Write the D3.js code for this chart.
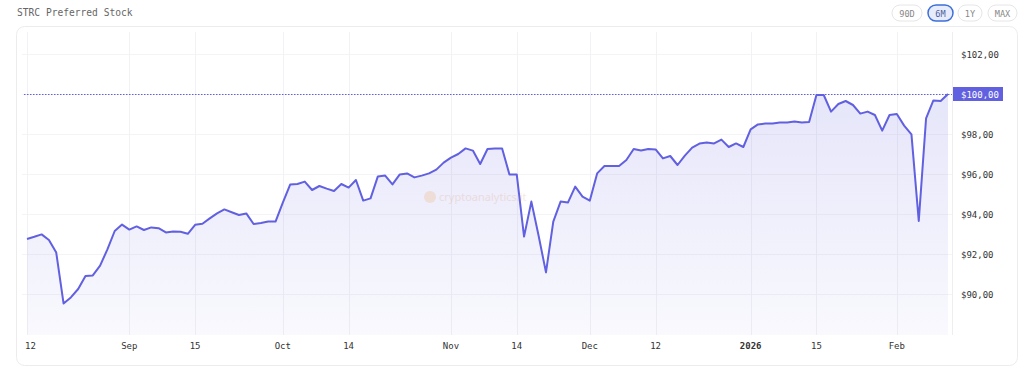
<!DOCTYPE html>
<html lang="en">
	<head>
		<meta charset="utf-8">
		<title>STRC Preferred Stock</title>
		<script type="text/javascript" src="https://cdn.jsdelivr.net/npm/d3@7"></script>
		<style type="text/css">
			body { margin: 0; background: #fff; }
			svg { display: block; }
		</style>
	</head>
	<body>

		<script type="text/javascript">

			//Width and height
			var w = 1024;
			var h = 371;

			//Closing prices, one per trading day (Aug 12 2025 -> Feb 11 2026)
			var prices = [
				92.75, 92.86, 92.98, 92.70, 92.07, 89.53, 89.83, 90.25, 90.90, 90.93,
				91.42, 92.23, 93.15, 93.47, 93.22, 93.38, 93.20, 93.33, 93.29, 93.08,
				93.13, 93.11, 93.01, 93.46, 93.51, 93.78, 94.03, 94.23, 94.09, 93.95,
				94.03, 93.50, 93.55, 93.62, 93.62, 94.57, 95.47, 95.50, 95.62, 95.20,
				95.40, 95.27, 95.15, 95.50, 95.32, 95.70, 94.67, 94.78, 95.88, 95.92,
				95.48, 95.98, 96.03, 95.83, 95.92, 96.03, 96.22, 96.57, 96.82, 97.00,
				97.28, 97.17, 96.50, 97.25, 97.28, 97.28, 95.98, 95.98, 92.87, 94.62,
				92.90, 91.08, 93.62, 94.62, 94.57, 95.37, 94.87, 94.67, 96.03, 96.40,
				96.40, 96.40, 96.70, 97.25, 97.17, 97.25, 97.23, 96.78, 96.90, 96.45,
				96.92, 97.32, 97.52, 97.57, 97.53, 97.72, 97.35, 97.53, 97.35, 98.23,
				98.48, 98.52, 98.53, 98.57, 98.58, 98.62, 98.57, 98.60, 99.95, 99.95,
				99.12, 99.50, 99.65, 99.45, 99.02, 99.12, 98.95, 98.17, 98.95, 99.00,
				98.42, 97.98, 93.65, 98.78, 99.68, 99.65, 100.00
			];

			//Time axis ticks (trading-day index -> label)
			var tickIndex  = [0, 14, 23, 35, 44, 58, 67, 77, 86, 99, 108, 119];
			var tickLabels = ["12", "Sep", "15", "Oct", "14", "Nov", "14", "Dec", "12", "2026", "15", "Feb"];

			//Price axis ticks
			var priceTicks = [90, 92, 94, 96, 98, 100, 102];

			var ranges = ["90D", "6M", "1Y", "MAX"];
			var activeRange = "6M";

			var lineColor = "#6160e0";
			var font = "'DejaVu Sans Mono', monospace";

			var plotLeft = 22, plotRight = 952, plotTop = 32, plotBottom = 335;

			var xScale = d3.scalePoint()
						.domain(d3.range(prices.length))
						.range([27, 948]);

			var yScale = d3.scaleLinear()
						.domain([88, 103])
						.range([334, 34]);

			//Create SVG element
			var svg = d3.select("body")
						.append("svg")
						.attr("width", w)
						.attr("height", h);

			//Title
			svg.append("text")
				.attr("x", 17)
				.attr("y", 16)
				.attr("font-family", font)
				.attr("font-size", "9.6px")
				.attr("fill", "#666")
				.text("STRC Preferred Stock");

			//Range buttons
			var btnX = [892, 928, 958, 988];
			var btnW = [30, 25, 24, 29];
			var btns = svg.selectAll("g.btn")
				.data(ranges)
				.enter()
				.append("g")
				.attr("class", "btn")
				.attr("transform", function(d, i) { return "translate(" + btnX[i] + ",5)"; });

			btns.append("rect")
				.attr("width", function(d, i) { return btnW[i]; })
				.attr("height", 16)
				.attr("rx", 8)
				.attr("fill", function(d) { return d == activeRange ? "#e6ecfb" : "#fff"; })
				.attr("stroke", function(d) { return d == activeRange ? "#3d6fd8" : "#e6e6e6"; })
				.attr("stroke-width", function(d) { return d == activeRange ? 1.5 : 1; });

			btns.append("text")
				.attr("x", function(d, i) { return btnW[i] / 2; })
				.attr("y", 11.5)
				.attr("text-anchor", "middle")
				.attr("font-family", font)
				.attr("font-size", "8.6px")
				.attr("fill", function(d) { return d == activeRange ? "#4d5f9a" : "#888"; })
				.text(function(d) { return d; });

			//Card
			svg.append("rect")
				.attr("x", 16.5)
				.attr("y", 26.5)
				.attr("width", 1001)
				.attr("height", 339)
				.attr("rx", 8)
				.attr("fill", "#fff")
				.attr("stroke", "#ececec");

			//Grid
			svg.selectAll("line.hgrid")
				.data(priceTicks)
				.enter()
				.append("line")
				.attr("class", "hgrid")
				.attr("x1", plotLeft)
				.attr("x2", plotRight)
				.attr("y1", function(d) { return Math.round(yScale(d)) + 0.5; })
				.attr("y2", function(d) { return Math.round(yScale(d)) + 0.5; })
				.attr("stroke", "#f4f4f6");

			svg.selectAll("line.vgrid")
				.data(tickIndex)
				.enter()
				.append("line")
				.attr("class", "vgrid")
				.attr("x1", function(d) { return Math.round(xScale(d)) + 0.5; })
				.attr("x2", function(d) { return Math.round(xScale(d)) + 0.5; })
				.attr("y1", plotTop)
				.attr("y2", plotBottom)
				.attr("stroke", "#f2f2f4");

			//Area gradient
			var grad = svg.append("defs")
				.append("linearGradient")
				.attr("id", "fillGrad")
				.attr("gradientUnits", "userSpaceOnUse")
				.attr("x1", 0).attr("x2", 0)
				.attr("y1", yScale(100)).attr("y2", plotBottom);
			grad.append("stop").attr("offset", "0%").attr("stop-color", lineColor).attr("stop-opacity", 0.16);
			grad.append("stop").attr("offset", "100%").attr("stop-color", lineColor).attr("stop-opacity", 0.04);

			var area = d3.area()
				.x(function(d, i) { return xScale(i); })
				.y0(plotBottom)
				.y1(function(d) { return yScale(d); });

			svg.append("path")
				.datum(prices)
				.attr("d", area)
				.attr("fill", "url(#fillGrad)");

			//Watermark
			var wm = svg.append("g").attr("opacity", 0.22);
			wm.append("circle")
				.attr("cx", 430).attr("cy", 197).attr("r", 6)
				.attr("fill", "#f5a25d");
			wm.append("text")
				.attr("x", 439).attr("y", 201)
				.attr("font-family", "'Noto Sans', sans-serif")
				.attr("font-size", "11px")
				.attr("fill", "#e39a6a")
				.text("cryptoanalytics.it");

			//Last price line
			var last = prices[prices.length - 1];
			svg.append("line")
				.attr("x1", 24)
				.attr("x2", plotRight)
				.attr("y1", Math.round(yScale(last)) + 0.5)
				.attr("y2", Math.round(yScale(last)) + 0.5)
				.attr("stroke", lineColor)
				.attr("stroke-width", 1)
				.attr("stroke-dasharray", "1.5,1.5");

			//Price line
			var line = d3.line()
				.x(function(d, i) { return xScale(i); })
				.y(function(d) { return yScale(d); });

			svg.append("path")
				.datum(prices)
				.attr("d", line)
				.attr("fill", "none")
				.attr("stroke", lineColor)
				.attr("stroke-width", 2)
				.attr("stroke-linejoin", "round");

			//Price scale border
			svg.append("line")
				.attr("x1", plotRight + 0.5)
				.attr("x2", plotRight + 0.5)
				.attr("y1", plotTop)
				.attr("y2", plotBottom)
				.attr("stroke", "#eeeeee");

			function money(v) {
				return "$" + v.toFixed(2).replace(".", ",");
			}

			//Price axis labels
			svg.selectAll("text.ylab")
				.data(priceTicks.filter(function(d) { return d != last; }))
				.enter()
				.append("text")
				.attr("class", "ylab")
				.attr("x", 961)
				.attr("y", function(d) { return yScale(d) + 3.5; })
				.attr("font-family", font)
				.attr("font-size", "9px")
				.attr("fill", "#333")
				.text(money);

			//Last price badge
			svg.append("rect")
				.attr("x", 953)
				.attr("y", yScale(last) - 7)
				.attr("width", 50)
				.attr("height", 14)
				.attr("fill", lineColor);
			svg.append("text")
				.attr("x", 961)
				.attr("y", yScale(last) + 3.5)
				.attr("font-family", font)
				.attr("font-size", "9px")
				.attr("fill", "#fff")
				.text(money(last));

			//Time axis labels
			svg.selectAll("text.xlab")
				.data(tickIndex)
				.enter()
				.append("text")
				.attr("class", "xlab")
				.attr("x", function(d) { return xScale(d); })
				.attr("y", 349)
				.attr("text-anchor", function(d, i) { return i == 0 ? "start" : "middle"; })
				.attr("dx", function(d, i) { return i == 0 ? -2 : 0; })
				.attr("font-family", font)
				.attr("font-size", "9px")
				.attr("font-weight", function(d, i) { return tickLabels[i] == "2026" ? "bold" : "normal"; })
				.attr("fill", "#333")
				.text(function(d, i) { return tickLabels[i]; });

		</script>
	</body>
</html>
